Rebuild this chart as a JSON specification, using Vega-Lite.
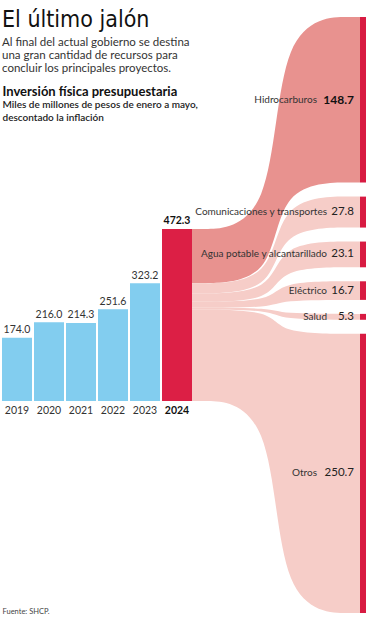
{
  "$schema": "https://vega.github.io/schema/vega-lite/v6.json",
  "width": 368,
  "height": 620,
  "autosize": {"type": "none"},
  "padding": 0,
  "background": "white",
  "config": {
    "view": {"stroke": null},
    "font": "Lato",
    "text": {"font": "Lato", "color": "#333"}
  },
  "title": {
    "text": "El último jalón",
    "subtitle": ["Al final del actual gobierno se destina", "una gran cantidad de recursos para", "concluir los principales proyectos."],
    "anchor": "start",
    "frame": "group",
    "orient": "top",
    "offset": -75,
    "dx": 2,
    "font": "Liberation Sans Narrow, DejaVu Sans Condensed, Roboto Condensed, Arial Narrow, Liberation Sans, sans-serif",
    "fontSize": 23,
    "fontWeight": "normal",
    "color": "#111",
    "subtitleFont": "Lato",
    "subtitleFontSize": 11.5,
    "subtitleColor": "#333",
    "subtitlePadding": 5,
    "subtitleLineHeight": 13.3
  },
  "resolve": {"scale": {"x": "independent"}, "axis": {"x": "independent"}},
  "layer": [
    {
      "data": {
        "values": [
          {"year": 2019, "value": 174.0},
          {"year": 2020, "value": 216.0},
          {"year": 2021, "value": 214.3},
          {"year": 2022, "value": 251.6},
          {"year": 2023, "value": 323.2},
          {"year": 2024, "value": 472.3}
        ]
      },
      "layer": [
        {
          "mark": {"type": "bar"},
          "encoding": {
            "x": {
              "field": "year", "type": "ordinal",
              "scale": {"range": [1, 193], "paddingInner": 0.0625, "paddingOuter": 0.03125},
              "axis": {
                "orient": "top", "labels": false, "ticks": false, "domain": false, "grid": false,
                "title": ["Miles de millones de pesos de enero a mayo,", "descontado la inflación"],
                "titleX": 2, "titleY": 107, "titleAlign": "left", "titleBaseline": "alphabetic", "titleAnchor": null,
                "titleFont": "Lato", "titleFontSize": 10, "titleFontWeight": 600, "titleColor": "#222", "titleLineHeight": 13
              }
            },
            "y": {
              "field": "value", "type": "quantitative",
              "scale": {"domain": [-601.35, 1101.1], "nice": false, "zero": false},
              "axis": {
                "orient": "left", "labels": false, "ticks": false, "domain": false, "grid": false,
                "title": "Inversión física presupuestaria",
                "titleAngle": 0, "titleX": 2, "titleY": 95, "titleAlign": "left", "titleBaseline": "alphabetic", "titleAnchor": null,
                "titleFont": "Lato", "titleFontSize": 13, "titleFontWeight": "bold", "titleColor": "#111"
              }
            },
            "y2": {"datum": 0},
            "color": {"condition": {"test": "datum.year == 2024", "value": "#dc1f45"}, "value": "#82cdef"}
          }
        },
        {
          "transform": [{"filter": "datum.year != 2024"}],
          "mark": {"type": "text", "baseline": "bottom", "dy": -2.5, "fontSize": 10.5, "color": "#333"},
          "encoding": {
            "x": {"field": "year", "type": "ordinal"},
            "y": {"field": "value", "type": "quantitative"},
            "text": {"field": "value", "type": "quantitative", "format": ".1f"}
          }
        },
        {
          "transform": [{"filter": "datum.year == 2024"}],
          "mark": {"type": "text", "baseline": "bottom", "dy": -2.5, "fontSize": 10.5, "fontWeight": "bold", "color": "#111"},
          "encoding": {
            "x": {"field": "year", "type": "ordinal"},
            "y": {"field": "value", "type": "quantitative"},
            "text": {"field": "value", "type": "quantitative", "format": ".1f"}
          }
        },
        {
          "transform": [{"filter": "datum.year != 2024"}],
          "mark": {"type": "text", "baseline": "middle", "dy": 10.5, "fontSize": 10.5, "color": "#333"},
          "encoding": {
            "x": {"field": "year", "type": "ordinal"},
            "y": {"datum": 0},
            "text": {"field": "year", "type": "ordinal"}
          }
        },
        {
          "transform": [{"filter": "datum.year == 2024"}],
          "mark": {"type": "text", "baseline": "middle", "dy": 10.5, "fontSize": 10.5, "fontWeight": "bold", "color": "#111"},
          "encoding": {
            "x": {"field": "year", "type": "ordinal"},
            "y": {"datum": 0},
            "text": {"field": "year", "type": "ordinal"}
          }
        }
      ]
    },
    {
      "data": {
        "values": [
          {"cat": "Hidrocarburos", "value": 148.7, "order": 1},
          {"cat": "Comunicaciones y transportes", "value": 27.8, "order": 2},
          {"cat": "Agua potable y alcantarillado", "value": 23.1, "order": 3},
          {"cat": "Eléctrico", "value": 16.7, "order": 4},
          {"cat": "Salud", "value": 5.3, "order": 5},
          {"cat": "Otros", "value": 250.7, "order": 6}
        ]
      },
      "transform": [
        {"joinaggregate": [{"op": "sum", "field": "value", "as": "total"}]},
        {"window": [{"op": "sum", "field": "value", "as": "cum"}], "sort": [{"field": "order"}], "frame": [null, 0]},
        {"calculate": "datum.total - datum.cum + datum.value", "as": "lt"},
        {"calculate": "datum.total - datum.cum", "as": "lb"},
        {"calculate": "1054.4 - 3.058 * (datum.cum - datum.value) - 38.44 * (datum.order - 1)", "as": "rt"},
        {"calculate": "datum.rt - 3.058 * datum.value", "as": "rb"},
        {"calculate": "(datum.rt + datum.rb) / 2", "as": "rm"}
      ],
      "layer": [
        {
          "transform": [
            {"calculate": "[0, 0.49, 0.51, 1]", "as": "t"},
            {"flatten": ["t"]},
            {"calculate": "datum.t < 0.5 ? datum.lt : datum.rt", "as": "yt"},
            {"calculate": "datum.t < 0.5 ? datum.lb : datum.rb", "as": "yb"}
          ],
          "mark": {"type": "area", "interpolate": "basis", "orient": "vertical"},
          "encoding": {
            "x": {
              "field": "t", "type": "quantitative",
              "scale": {"domain": [0, 1], "range": [192, 360], "nice": false, "zero": false},
              "axis": {
                "orient": "bottom", "labels": false, "ticks": false, "domain": false, "grid": false,
                "title": "Fuente: SHCP.",
                "titleX": 2, "titleY": -9, "titleAlign": "left", "titleBaseline": "middle", "titleAnchor": null,
                "titleFont": "Lato", "titleFontSize": 7.5, "titleFontWeight": "normal", "titleColor": "#444"
              }
            },
            "y": {"field": "yt", "type": "quantitative"},
            "y2": {"field": "yb"},
            "detail": {"field": "cat", "type": "nominal"},
            "color": {"condition": {"test": "datum.cat == 'Hidrocarburos'", "value": "#e8928f"}, "value": "#f6cdc8"}
          }
        },
        {
          "mark": {"type": "rect", "x2Offset": 6, "color": "#d81b42"},
          "encoding": {
            "x": {"datum": 1},
            "x2": {"datum": 1},
            "y": {"field": "rt", "type": "quantitative"},
            "y2": {"field": "rb"}
          }
        },
        {
          "transform": [{"filter": "datum.cat != 'Hidrocarburos'"}],
          "mark": {"type": "text", "align": "right", "baseline": "middle", "dx": -6, "fontSize": 11.5, "color": "#222"},
          "encoding": {
            "x": {"datum": 1},
            "y": {"field": "rm", "type": "quantitative"},
            "text": {"field": "value", "type": "quantitative", "format": ".1f"}
          }
        },
        {
          "transform": [{"filter": "datum.cat == 'Hidrocarburos'"}],
          "mark": {"type": "text", "align": "right", "baseline": "middle", "dx": -6, "fontSize": 12, "fontWeight": "bold", "color": "#111"},
          "encoding": {
            "x": {"datum": 1},
            "y": {"field": "rm", "type": "quantitative"},
            "text": {"field": "value", "type": "quantitative", "format": ".1f"}
          }
        },
        {
          "transform": [{"filter": "datum.cat != 'Hidrocarburos' && datum.cat != 'Otros'"}],
          "mark": {"type": "text", "align": "right", "baseline": "middle", "dx": -33, "fontSize": 10, "color": "#333"},
          "encoding": {
            "x": {"datum": 1},
            "y": {"field": "rm", "type": "quantitative"},
            "text": {"field": "cat", "type": "nominal"}
          }
        },
        {
          "transform": [{"filter": "datum.cat == 'Hidrocarburos' || datum.cat == 'Otros'"}],
          "mark": {"type": "text", "align": "right", "baseline": "middle", "dx": -43, "fontSize": 10, "color": "#333"},
          "encoding": {
            "x": {"datum": 1},
            "y": {"field": "rm", "type": "quantitative"},
            "text": {"field": "cat", "type": "nominal"}
          }
        }
      ]
    }
  ]
}
